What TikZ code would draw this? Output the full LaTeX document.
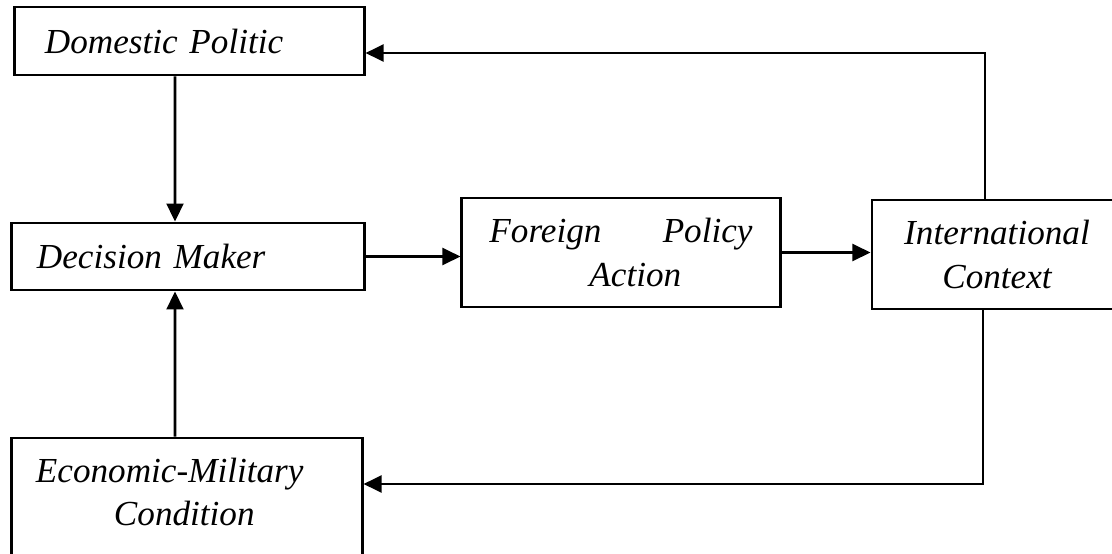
\documentclass[tikz,border=0pt]{standalone}
\usepackage{fontspec}
\setmainfont{Liberation Serif}
\usetikzlibrary{arrows.meta, positioning, calc}

\begin{document}
\begin{tikzpicture}[x=0.025cm, y=-0.025cm, line width=2.1pt,
    >={Triangle[length=0.45cm, width=0.42cm]},
    box/.style={draw, inner ysep=0pt, font=\itshape\fontsize{25}{31}\selectfont}]
  \useasboundingbox (0,0) rectangle (1112,553);
  \clip (0,0) rectangle (1112,553);

  \node[box, minimum width=8.725cm, minimum height=1.7cm, inner xsep=0.75cm, text width=7.225cm, align=left]
    (dom) at (189.5,41) {Domestic Politic};
  \node[box, minimum width=8.8cm, minimum height=1.675cm, inner xsep=0.625cm, text width=7.55cm, align=left]
    (dec) at (188,256.5) {Decision Maker};
  \node[box, minimum width=7.95cm, minimum height=2.725cm, inner xsep=0.6875cm, text width=6.575cm, align=left]
    (fpa) at (621,252.5) {Foreign\hfill Policy\\\hspace*{2.5cm}Action};
  \node[box, minimum width=6.25cm, minimum height=2.725cm, align=center]
    (ic) at (997,254.5) {International\\Context};
  \node[box, minimum width=8.75cm, minimum height=3.1cm, inner xsep=0.6cm, text width=7.55cm, align=left, text depth=1.5cm]
    (emc) at (187,500) {Economic-Military\\\hspace*{1.95cm}Condition};

  \draw[->] ([xshift=-0.3625cm]dom.south) -- ([xshift=-0.325cm]dec.north);
  \draw[->] ([xshift=-0.3cm]emc.north) -- ([xshift=-0.325cm]dec.south);
  \draw[->] (dec.east) -- (dec.east -| fpa.west);
  \draw[->] (fpa.east) -- (fpa.east -| ic.west);
  \draw[->] ([xshift=-0.3cm]ic.north) |- ([yshift=-0.3cm]dom.east);
  \draw[->] ([xshift=-0.35cm]ic.south) |- ([yshift=0.4cm]emc.east);
\end{tikzpicture}
\end{document}
